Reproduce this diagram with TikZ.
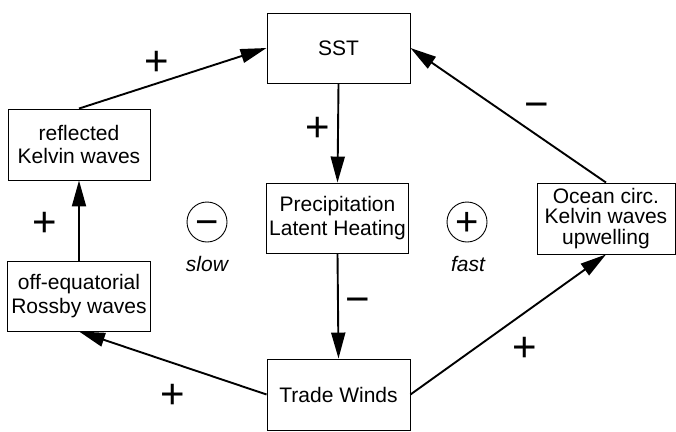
\documentclass[tikz,border=0pt]{standalone}
\usepackage{fontspec}
\setmainfont{Liberation Sans}
\usetikzlibrary{shapes}
\usetikzlibrary{arrows.meta}
\tikzset{
	box/.style={draw=black, line width=0.9pt, minimum width=142pt, minimum height=70pt, inner sep=2pt, align=center, font=\fontsize{21}{23.5}\selectfont},
	arr/.style={line width=1.9pt, -{Triangle[length=26pt,width=14pt]}},
	sign/.style={inner sep=0pt, text height=28pt, text depth=0pt, font=\fontsize{42}{42}\selectfont},
	loopsign/.style={draw=black, line width=0.9pt, circle, minimum size=40pt, inner sep=0pt, text height=27pt, text depth=0pt, font=\fontsize{40}{40}\selectfont},
	speed/.style={font=\fontsize{21}{23.5}\selectfont\itshape}
}
\begin{document}
\begin{tikzpicture}[x=1pt, y=-1pt]
		\useasboundingbox (0,0) rectangle (676,431);
		\node[box, minimum width=143pt] (sst) at (338.5,48) {SST};
		\node[box] (heat) at (337.5,218) {Precipitation\\Latent Heating};
		\node[box, minimum width=143pt, minimum height=71pt] (winds) at (338.5,394.5) {Trade Winds};
		\node[box, minimum width=138pt, minimum height=71pt, font=\fontsize{21}{20.5}\selectfont] (ocean) at (606,218.5) {Ocean circ.\\Kelvin waves\\upwelling};
		\node[box, minimum width=143pt] (rossby) at (79,296) {off-equatorial\\Rossby waves};
		\node[box, minimum height=71pt] (refl) at (79,144.5) {reflected\\Kelvin waves};
		\draw[arr] (refl.north) -- (sst.west);
		\draw[arr] (rossby.north) -- (refl.south);
		\draw[arr] (winds.west) -- (rossby.south);
		\draw[arr] (winds.east) -- (ocean.south);
		\draw[arr] (ocean.north) -- (sst.east);
		\draw[arr] (sst.south) -- (heat.north);
		\draw[arr] (heat.south) -- (winds.north);
		\node[sign] (pkelvin) at (157,61) {+};
		\node[sign] (pheat) at (318,127) {+};
		\node[sign] (mocean) at (537,104) {−};
		\node[sign] (prossby) at (45,222) {+};
		\node[sign] (mwinds) at (358,299) {−};
		\node[sign] (pwest) at (173,394) {+};
		\node[sign] (peast) at (525,347) {+};
		\node[loopsign] (negloop) at (207,222) {−};
		\node[loopsign] (posloop) at (467,222) {+};
		\node[speed] (slow) at (207,264) {slow};
		\node[speed] (fast) at (468,264) {fast};
	\end{tikzpicture}
\end{document}
